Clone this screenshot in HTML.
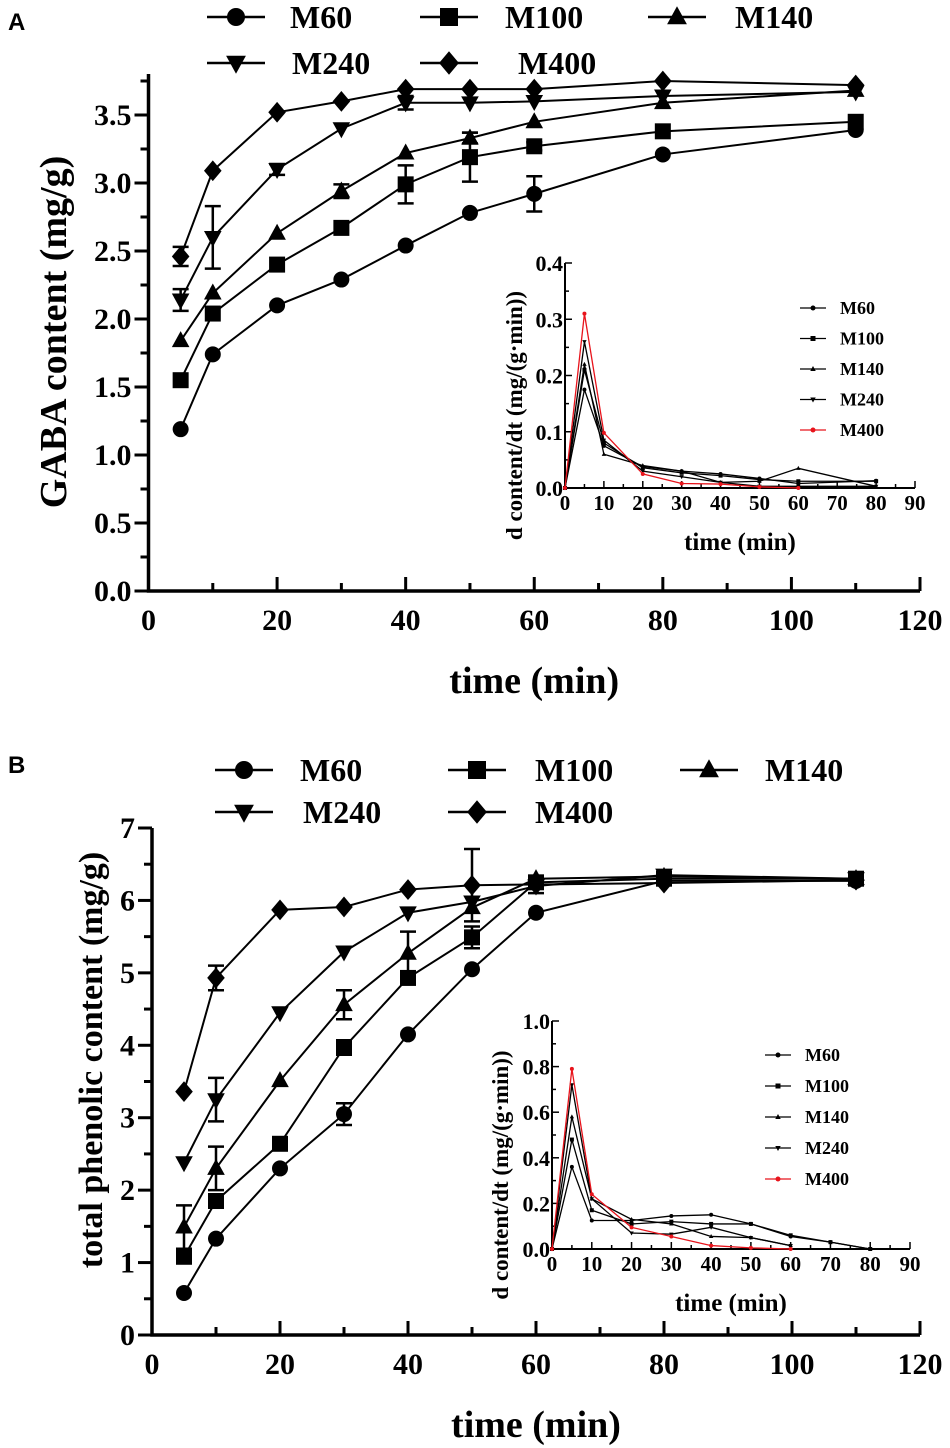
<!DOCTYPE html>
<html><head><meta charset="utf-8">
<style>
html,body{margin:0;padding:0;background:#fff;}
svg{display:block;}
text{font-family:"Liberation Serif",serif;font-weight:bold;fill:#000;}
.pl{font-family:"Liberation Sans",sans-serif;}
</style></head>
<body>
<svg id="fig" width="950" height="1448" viewBox="0 0 950 1448" xmlns="http://www.w3.org/2000/svg"></svg>
<script>
const timesMain = [5,10,20,30,40,50,60,80,110];
const seriesNames = ['M60','M100','M140','M240','M400'];
const markers = ['circle','square','triangle','tridown','diamond'];
// Panel A GABA content (mg/g)
const gabaM60  = [1.19,1.74,2.10,2.29,2.54,2.78,2.92,3.21,3.39];
const gabaM100 = [1.55,2.04,2.40,2.67,2.99,3.19,3.27,3.38,3.45];
const gabaM140 = [1.84,2.19,2.63,2.94,3.22,3.33,3.45,3.59,3.68];
const gabaM240 = [2.14,2.60,3.10,3.40,3.59,3.59,3.60,3.64,3.67];
const gabaM400 = [2.46,3.09,3.52,3.60,3.69,3.69,3.69,3.75,3.72];
const gabaErrM60  = [0,0,0,0,0,0,0.13,0,0];
const gabaErrM100 = [0,0,0,0,0.14,0.18,0.03,0,0];
const gabaErrM140 = [0,0,0,0.05,0,0.04,0,0,0];
const gabaErrM240 = [0.08,0.23,0.04,0,0.05,0,0,0,0];
const gabaErrM400 = [0.07,0,0,0,0,0,0,0,0];
const gabaYTicks = ['0.0','0.5','1.0','1.5','2.0','2.5','3.0','3.5'];
// Panel B total phenolic content (mg/g)
const tpcM60  = [0.58,1.33,2.30,3.05,4.15,5.05,5.83,6.27,6.27];
const tpcM100 = [1.08,1.85,2.64,3.97,4.93,5.49,6.25,6.30,6.30];
const tpcM140 = [1.49,2.30,3.51,4.56,5.27,5.90,6.30,6.33,6.30];
const tpcM240 = [2.38,3.25,4.45,5.29,5.83,5.98,6.20,6.35,6.30];
const tpcM400 = [3.36,4.93,5.87,5.91,6.15,6.21,6.22,6.24,6.28];
const tpcErrM60  = [0,0,0,0.15,0,0,0,0,0];
const tpcErrM100 = [0,0,0,0.1,0,0.15,0,0,0];
const tpcErrM140 = [0.3,0.3,0,0.2,0.3,0,0,0,0];
const tpcErrM240 = [0,0.3,0,0,0,0,0.1,0,0];
const tpcErrM400 = [0,0.17,0,0,0,0.5,0,0,0];
const tpcYTicks = ['0','1','2','3','4','5','6','7'];
const xTicksMain = ['0','20','40','60','80','100','120'];
// Inset A rates
const rateTimesA = [0,5,10,20,30,40,50,60,80];
const rateAM60  = [0,0.175,0.075,0.038,0.030,0.025,0.017,0.008,0.013];
const rateAM100 = [0,0.210,0.080,0.036,0.027,0.022,0.015,0.012,0.012];
const rateAM140 = [0,0.220,0.060,0.040,0.030,0.010,0.012,0.035,0.003];
const rateAM240 = [0,0.260,0.085,0.030,0.020,0.010,0.003,0.003,0.003];
const rateTimesA400 = [0,5,10,20,30,40,50,60];
const rateAM400 = [0,0.310,0.098,0.025,0.008,0.007,0.002,0];
const insetAYTicks = ['0.0','0.1','0.2','0.3','0.4'];
// Inset B rates
const rateTimesB = [0,5,10,20,30,40,50,60,70,80];
const rateBM60  = [0,0.36,0.125,0.125,0.145,0.150,0.110,0.055,0.030,0];
const rateBM100 = [0,0.48,0.170,0.110,0.120,0.110,0.110,0.060,0.030,0];
const rateTimesBs = [0,5,10,20,30,40,50,60];
const rateBM140 = [0,0.58,0.220,0.130,0.110,0.055,0.050,0.015];
const rateBM240 = [0,0.72,0.220,0.070,0.065,0.095,0.050,0.015];
const rateBM400 = [0,0.79,0.240,0.095,0.055,0.015,0.005,0];
const insetBYTicks = ['0.0','0.2','0.4','0.6','0.8','1.0'];
const xTicksInset = ['0','10','20','30','40','50','60','70','80','90'];

const NS='http://www.w3.org/2000/svg';
const svg=document.getElementById('fig');
function mk(tag,attrs,parent){const e=document.createElementNS(NS,tag);for(const k in attrs)e.setAttribute(k,attrs[k]);(parent||svg).appendChild(e);return e;}
function txt(x,y,s,size,anchor,parent,extra){const t=mk('text',Object.assign({x:x,y:y,'font-size':size,'text-anchor':anchor||'middle'},extra||{}),parent);t.textContent=s;return t;}

function marker(g,type,x,y,r,col){
  col=col||'#000';
  let e;
  if(type==='circle') e=mk('circle',{cx:x,cy:y,r:r,fill:col},g);
  else if(type==='square') e=mk('rect',{x:x-r,y:y-r,width:2*r,height:2*r,fill:col},g);
  else if(type==='triangle') e=mk('polygon',{points:`${x},${y-r*1.2} ${x-r*1.1},${y+r*0.8} ${x+r*1.1},${y+r*0.8}`,fill:col},g);
  else if(type==='tridown') e=mk('polygon',{points:`${x},${y+r*1.2} ${x-r*1.1},${y-r*0.8} ${x+r*1.1},${y-r*0.8}`,fill:col},g);
  else e=mk('polygon',{points:`${x},${y-r*1.3} ${x+r*1.1},${y} ${x},${y+r*1.3} ${x-r*1.1},${y}`,fill:col},g);
  return e;
}

function mainChart(cfg){
  const g=mk('g',{});
  
  
  const X=v=>cfg.x0+(v/120)*(cfg.x1-cfg.x0);
  const Y=v=>cfg.y0-(v/cfg.ymax)*(cfg.y0-cfg.y1);
  const ax=mk('path',{d:`M${X(0)},${cfg.yTop} L${X(0)},${cfg.y0} L${X(120)},${cfg.y0}`,stroke:'#000','stroke-width':3.5,fill:'none'},g);
  
  
  for(let v=0;v<=120;v+=10){const maj=v%20===0;mk('line',{x1:X(v),x2:X(v),y1:cfg.y0,y2:cfg.y0-(maj?14:8),stroke:'#000','stroke-width':3},g);}
  xTicksMain.forEach(s=>{const t=txt(X(+s),cfg.y0+39,s,30,'middle',g);});
  const nMinor=Math.round(cfg.ymaxAxis/cfg.minor);
  for(let i=0;i<=nMinor;i++){const v=i*cfg.minor;const maj=Math.abs(v/cfg.major-Math.round(v/cfg.major))<1e-6;mk('line',{x1:X(0),x2:X(0)-(maj?14:8),y1:Y(v),y2:Y(v),stroke:'#000','stroke-width':3},g);}
  cfg.yTicks.forEach(s=>{const t=txt(X(0)-17,Y(+s)+10,s,30,'end',g);});
  const xt=txt((X(0)+X(120))/2,cfg.y0+102,'time (min)',38,'middle',g);
  
  
  const yt=txt(0,0,cfg.ytitle,cfg.ytsize,'middle',g,{transform:`translate(${cfg.ytx},${cfg.yty}) rotate(-90)`});
  
  
  cfg.series.forEach((vals,i)=>{
    const sg=mk('g',{},g);
    
    
    mk('polyline',{points:vals.map((v,j)=>X(timesMain[j])+','+Y(v)).join(' '),fill:'none',stroke:'#000','stroke-width':2},sg);
    cfg.errs[i].forEach((e,j)=>{if(e>0){const x=X(timesMain[j]);mk('path',{d:`M${x},${Y(vals[j]-e)} L${x},${Y(vals[j]+e)} M${x-8},${Y(vals[j]-e)} L${x+8},${Y(vals[j]-e)} M${x-8},${Y(vals[j]+e)} L${x+8},${Y(vals[j]+e)}`,stroke:'#000','stroke-width':2.5,fill:'none'},sg);}});
    vals.forEach((v,j)=>{const m=marker(sg,markers[i],X(timesMain[j]),Y(v),8);});
  });
  cfg.legend.forEach((L,i)=>{
    const lg=mk('g',{},g);
    
    
    mk('line',{x1:L[0],x2:L[0]+58,y1:L[1],y2:L[1],stroke:'#000','stroke-width':2.5},lg);
    marker(lg,markers[i],L[0]+29,L[1],9);
    txt(L[2],L[1]+11,seriesNames[i],32,'start',lg);
  });
}

function insetChart(cfg){
  const g=mk('g',{});
  
  
  const X=v=>cfg.x0+(v/90)*(cfg.x1-cfg.x0);
  const Y=v=>cfg.y0-(v/cfg.ymax)*(cfg.y0-cfg.y1);
  mk('path',{d:`M${X(0)},${Y(cfg.ymax)} L${X(0)},${cfg.y0} L${X(90)},${cfg.y0}`,stroke:'#000','stroke-width':2,fill:'none'},g);
  for(let v=0;v<=90;v+=5){const maj=v%10===0;mk('line',{x1:X(v),x2:X(v),y1:cfg.y0,y2:cfg.y0-(maj?7:4),stroke:'#000','stroke-width':1.5},g);}
  xTicksInset.forEach(s=>{const t=txt(X(+s),cfg.y0+22,s,21,'middle',g);});
  const n=Math.round(cfg.ymax/cfg.minor);
  for(let i=0;i<=n;i++){const v=i*cfg.minor;const maj=i%2===0;mk('line',{x1:X(0),x2:X(0)+(maj?7:4),y1:Y(v),y2:Y(v),stroke:'#000','stroke-width':1.5},g);}
  cfg.yTicks.forEach(s=>{const t=txt(X(0)-2,Y(+s)+8,s,22,'end',g);});
  const xt=txt((X(0)+X(90))/2,cfg.y0+62,'time (min)',25,'middle',g);
  
  
  const yt=txt(0,0,'d content/dt (mg/(g·min))',23,'middle',g,{transform:`translate(${cfg.ytx},${(Y(cfg.ymax)+cfg.y0)/2+40}) rotate(-90)`});
  
  
  cfg.series.forEach((s,i)=>{
    const col=i===4?'#e8141c':'#000';
    const sg=mk('g',{},g);
    
    
    mk('polyline',{points:s[1].map((v,j)=>X(s[0][j])+','+Y(v)).join(' '),fill:'none',stroke:col,'stroke-width':1.3},sg);
    s[1].forEach((v,j)=>{marker(sg,i===4?'circle':markers[i],X(s[0][j]),Y(v),2,col);});
    const ly=cfg.legY+i*cfg.legDy;
    const lg=mk('g',{},g);
    
    
    mk('line',{x1:cfg.legX,x2:cfg.legX+26,y1:ly,y2:ly,stroke:col,'stroke-width':1.3},lg);
    marker(lg,i===4?'circle':markers[i],cfg.legX+13,ly,2.5,col);
    txt(cfg.legX+40,ly+6,seriesNames[i],18,'start',lg);
  });
}

const pa=txt(8,30,'A',24,'start',null,{class:'pl'});


const pb=txt(8,773,'B',24,'start',null,{class:'pl'});



mainChart({name:'gaba-chart',x0:148.5,x1:920,y0:591,y1:115,ymax:3.5,yTop:74,ymaxAxis:3.75,minor:0.25,major:0.5,
  yTicks:gabaYTicks,ytitle:'GABA content (mg/g)',ytx:66,yty:332,ytsize:38,
  series:[gabaM60,gabaM100,gabaM140,gabaM240,gabaM400],
  errs:[gabaErrM60,gabaErrM100,gabaErrM140,gabaErrM240,gabaErrM400],
  legend:[[207,17,290],[420,17,505],[648,17,735],[207,63,292],[420,63,518]]});
mainChart({name:'phenolic-chart',x0:152,x1:920,y0:1335,y1:828,ymax:7,yTop:828,ymaxAxis:7,minor:0.5,major:1,
  yTicks:tpcYTicks,ytitle:'total phenolic content (mg/g)',ytx:102,yty:1060,ytsize:34,
  series:[tpcM60,tpcM100,tpcM140,tpcM240,tpcM400],
  errs:[tpcErrM60,tpcErrM100,tpcErrM140,tpcErrM240,tpcErrM400],
  legend:[[215,770,300],[448,770,535],[680,770,765],[215,812,303],[448,812,535]]});
insetChart({name:'gaba-rate-inset',x0:565,x1:915,y0:488,y1:263,ymax:0.4,minor:0.05,yTicks:insetAYTicks,ytx:522,
  legX:800,legY:308,legDy:30.5,
  series:[[rateTimesA,rateAM60],[rateTimesA,rateAM100],[rateTimesA,rateAM140],[rateTimesA,rateAM240],[rateTimesA400,rateAM400]]});
insetChart({name:'phenolic-rate-inset',x0:552,x1:910,y0:1249,y1:1021,ymax:1.0,minor:0.1,yTicks:insetBYTicks,ytx:508,
  legX:765,legY:1055,legDy:31,
  series:[[rateTimesB,rateBM60],[rateTimesB,rateBM100],[rateTimesBs,rateBM140],[rateTimesBs,rateBM240],[rateTimesBs,rateBM400]]});
</script>
</body></html>
